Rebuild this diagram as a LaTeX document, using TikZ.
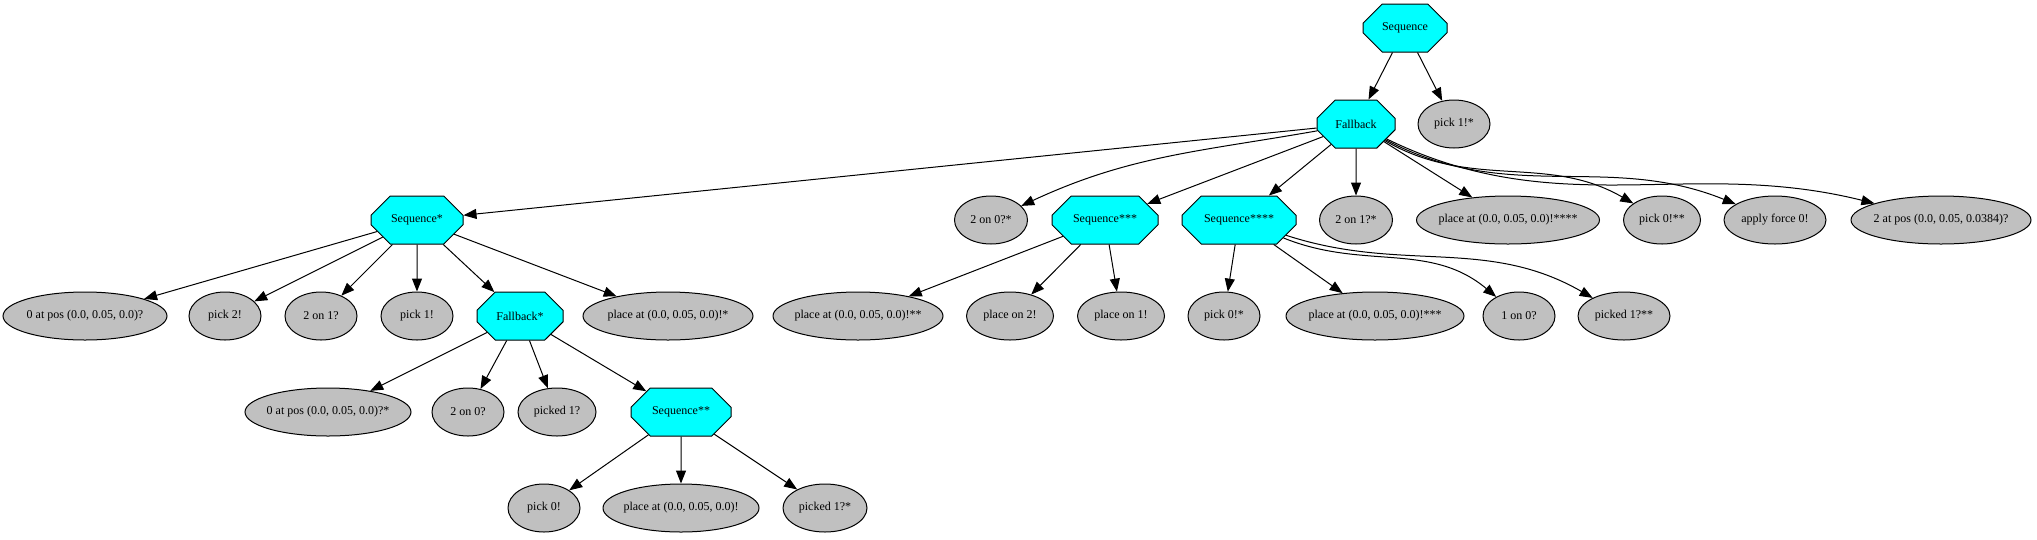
\documentclass[tikz,border=0pt]{standalone}
\usepackage{fontspec}
\setmainfont{Liberation Serif}
\usetikzlibrary{shapes.geometric, shapes.misc, arrows.meta}
\definecolor{leafgray}{HTML}{C0C0C0}
\definecolor{ctrlcyan}{RGB}{0,255,255}
\tikzstyle{ctrl} = [chamfered rectangle, chamfered rectangle ysep=14pt,
minimum height=48pt, inner sep=0pt, text centered, draw=black, fill=ctrlcyan]
\tikzstyle{leaf} = [ellipse, minimum width=72pt, minimum height=48pt,
inner xsep=-10pt, inner ysep=0pt, text centered, draw=black, fill=leafgray]
\tikzstyle{arrow} = [-{Triangle[length=13pt,width=10pt]}]

\begin{document}
\begin{tikzpicture}[x=1pt, y=-1pt, line width=1pt, font=\fontsize{12pt}{14pt}\selectfont]
\useasboundingbox (0,0) rectangle (2037,539);

% top levels
\node(seq)[ctrl, minimum width=84pt, chamfered rectangle xsep=24.6pt] at (1405,28) {Sequence};
\node(fb)[ctrl, minimum width=78pt, chamfered rectangle xsep=22.9pt] at (1356,124) {Fallback};
\node(pickOneS)[leaf] at (1454,124) {pick 1!*};

% row 2
\node(seqA)[ctrl, minimum width=92pt, chamfered rectangle xsep=27pt] at (417,220) {Sequence*};
\node(twoOnZeroS)[leaf, minimum width=73pt] at (991,220) {2 on 0?*};
\node(seqC)[ctrl, minimum width=106pt, chamfered rectangle xsep=31pt] at (1105,220) {Sequence***};
\node(seqD)[ctrl, minimum width=114pt, chamfered rectangle xsep=33.4pt] at (1239,220) {Sequence****};
\node(twoOnOneS)[leaf, minimum width=73pt] at (1356,220) {2 on 1?*};
\node(placeD)[leaf, minimum width=183pt] at (1508,220) {place at (0.0, 0.05, 0.0)!****};
\node(pickZeroSS)[leaf, minimum width=77pt] at (1662,220) {pick 0!**};
\node(applyForce)[leaf, minimum width=102pt] at (1775,220) {apply force 0!};
\node(twoAtPos)[leaf, minimum width=180pt] at (1941,220) {2 at pos (0.0, 0.05, 0.0384)?};

% row 3
\node(zeroAtPos)[leaf, minimum width=164pt] at (85,316) {0 at pos (0.0, 0.05, 0.0)?};
\node(pickTwo)[leaf] at (225,316) {pick 2!};
\node(twoOnOne)[leaf] at (321,316) {2 on 1?};
\node(pickOne)[leaf] at (417,316) {pick 1!};
\node(fbA)[ctrl, minimum width=86pt, chamfered rectangle xsep=25.2pt] at (520,316) {Fallback*};
\node(placeA)[leaf, minimum width=170pt] at (668,316) {place at (0.0, 0.05, 0.0)!*};
\node(placeB)[leaf, minimum width=170pt] at (858,316) {place at (0.0, 0.05, 0.0)!**};
\node(placeOnTwo)[leaf, minimum width=87pt] at (1010,316) {place on 2!};
\node(placeOnOne)[leaf, minimum width=87pt] at (1121,316) {place on 1!};
\node(pickZeroS)[leaf] at (1224,316) {pick 0!*};
\node(placeC)[leaf, minimum width=178pt] at (1375,316) {place at (0.0, 0.05, 0.0)!***};
\node(oneOnZero)[leaf] at (1519,316) {1 on 0?};
\node(pickedOneSS)[leaf, minimum width=92pt] at (1624,316) {picked 1?**};

% row 4
\node(zeroAtPosS)[leaf, minimum width=166pt] at (328,412) {0 at pos (0.0, 0.05, 0.0)?*};
\node(twoOnZero)[leaf] at (468,412) {2 on 0?};
\node(pickedOne)[leaf, minimum width=78pt] at (557,412) {picked 1?};
\node(seqB)[ctrl, minimum width=100pt, chamfered rectangle xsep=29.3pt] at (681,412) {Sequence**};

% row 5
\node(pickZero)[leaf] at (544,508) {pick 0!};
\node(placeAt)[leaf, minimum width=156pt] at (681,508) {place at (0.0, 0.05, 0.0)!};
\node(pickedOneS)[leaf, minimum width=84pt] at (825,508) {picked 1?*};

\draw[arrow](seq) -- (fb);
\draw[arrow](seq) -- (pickOneS);

\draw[arrow](fb) -- (seqA);
\draw[arrow](fb) to[out=190,in=25] (twoOnZeroS);
\draw[arrow](fb) -- (seqC);
\draw[arrow](fb) -- (seqD);
\draw[arrow](fb) -- (twoOnOneS);
\draw[arrow](fb) -- (placeD);
\draw[arrow](fb) to[out=-30,in=150] (pickZeroSS);
\draw[arrow](fb) to[out=-28,in=158] (applyForce);
\draw[arrow](fb) to[out=-26,in=166] (twoAtPos);

\draw[arrow](seqA) -- (zeroAtPos);
\draw[arrow](seqA) -- (pickTwo);
\draw[arrow](seqA) -- (twoOnOne);
\draw[arrow](seqA) -- (pickOne);
\draw[arrow](seqA) -- (fbA);
\draw[arrow](seqA) -- (placeA);

\draw[arrow](seqC) -- (placeB);
\draw[arrow](seqC) -- (placeOnTwo);
\draw[arrow](seqC) -- (placeOnOne);

\draw[arrow](seqD) -- (pickZeroS);
\draw[arrow](seqD) -- (placeC);
\draw[arrow](seqD) to[out=-22,in=140] (oneOnZero);
\draw[arrow](seqD) to[out=-18,in=150] (pickedOneSS);

\draw[arrow](fbA) -- (zeroAtPosS);
\draw[arrow](fbA) -- (twoOnZero);
\draw[arrow](fbA) -- (pickedOne);
\draw[arrow](fbA) -- (seqB);

\draw[arrow](seqB) -- (pickZero);
\draw[arrow](seqB) -- (placeAt);
\draw[arrow](seqB) -- (pickedOneS);

\end{tikzpicture}
\end{document}
